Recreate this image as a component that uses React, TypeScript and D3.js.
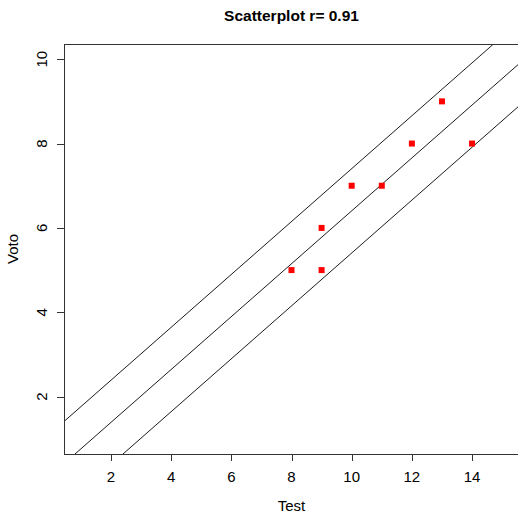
import * as d3 from 'd3';
import React from 'react';

// observations
const testValues = [8, 9, 9, 10, 11, 12, 13, 14];
const votoValues = [5, 5, 6, 7, 7, 8, 9, 8];

// regression line plus / minus one unit
const bandOffsets = [1, 0, -1];

const xTicks = [2, 4, 6, 8, 10, 12, 14];
const yTicks = [2, 4, 6, 8, 10];

const titleText = 'Scatterplot r= 0.91';
const xLabel = 'Test';
const yLabel = 'Voto';

const width = 518;
const height = 514;
const plot = { left: 64, right: 519, top: 44, bottom: 454 };
const font = '"Liberation Sans", Arial, sans-serif';

// R style 4% padding around xlim = c(1, 15), ylim = c(1, 10)
const padRange = (lo: number, hi: number): [number, number] => {
  const p = (hi - lo) * 0.04;
  return [lo - p, hi + p];
};

const xScale = d3.scaleLinear().domain(padRange(1, 15)).range([plot.left, plot.right]);
const yScale = d3.scaleLinear().domain(padRange(1, 10)).range([plot.bottom, plot.top]);

// least squares fit of voto on test
const fitLine = () => {
  const mx = d3.mean(testValues) as number;
  const my = d3.mean(votoValues) as number;
  const sxy = d3.sum(testValues, (x, i) => (x - mx) * (votoValues[i] - my));
  const sxx = d3.sum(testValues, (x) => (x - mx) * (x - mx));
  const slope = sxy / sxx;
  return { slope, intercept: my - slope * mx };
};

const App = () => {
  const { slope, intercept } = fitLine();
  const [x0, x1] = xScale.domain();

  return (
    <svg
      width={width}
      height={height}
      style={{ position: 'absolute', left: 0, top: 0, background: 'white' }}
      fontFamily={font}
    >
      <defs>
        <clipPath id="plotArea">
          <rect x={plot.left} y={plot.top} width={plot.right - plot.left} height={plot.bottom - plot.top} />
        </clipPath>
      </defs>

      <text x={(plot.left + plot.right) / 2} y={21} textAnchor="middle" fontSize={15.5} fontWeight="bold">
        {titleText}
      </text>

      {/* regression lines */}
      <g clipPath="url(#plotArea)">
        {bandOffsets.map((off) => (
          <line
            key={off}
            x1={xScale(x0)}
            y1={yScale(intercept + off + slope * x0)}
            x2={xScale(x1)}
            y2={yScale(intercept + off + slope * x1)}
            stroke="#000"
            strokeWidth={0.9}
          />
        ))}
      </g>

      {/* points */}
      {testValues.map((t, i) => (
        <rect
          key={i}
          x={xScale(t) - 3}
          y={yScale(votoValues[i]) - 3}
          width={6}
          height={6}
          fill="#ff0000"
        />
      ))}

      {/* box */}
      <rect
        x={plot.left + 0.5}
        y={plot.top + 0.5}
        width={plot.right - plot.left}
        height={plot.bottom - plot.top}
        fill="none"
        stroke="#333"
        strokeWidth={1}
      />

      {/* x axis */}
      <g>
        {xTicks.map((t) => (
          <g key={t}>
            <line
              x1={Math.round(xScale(t)) + 0.5}
              x2={Math.round(xScale(t)) + 0.5}
              y1={plot.bottom}
              y2={plot.bottom + 7}
              stroke="#333"
            />
            <text x={xScale(t)} y={482} textAnchor="middle" fontSize={15}>
              {t}
            </text>
          </g>
        ))}
        <text x={(plot.left + plot.right) / 2} y={511} textAnchor="middle" fontSize={15}>
          {xLabel}
        </text>
      </g>

      {/* y axis */}
      <g>
        {yTicks.map((t) => (
          <g key={t}>
            <line
              x1={plot.left - 7}
              x2={plot.left}
              y1={Math.round(yScale(t)) + 0.5}
              y2={Math.round(yScale(t)) + 0.5}
              stroke="#333"
            />
            <text
              transform={`translate(47,${yScale(t)}) rotate(-90)`}
              textAnchor="middle"
              fontSize={15}
            >
              {t}
            </text>
          </g>
        ))}
        <text
          transform={`translate(18,${(plot.top + plot.bottom) / 2}) rotate(-90)`}
          textAnchor="middle"
          fontSize={15}
        >
          {yLabel}
        </text>
      </g>
    </svg>
  );
};

export default App;
